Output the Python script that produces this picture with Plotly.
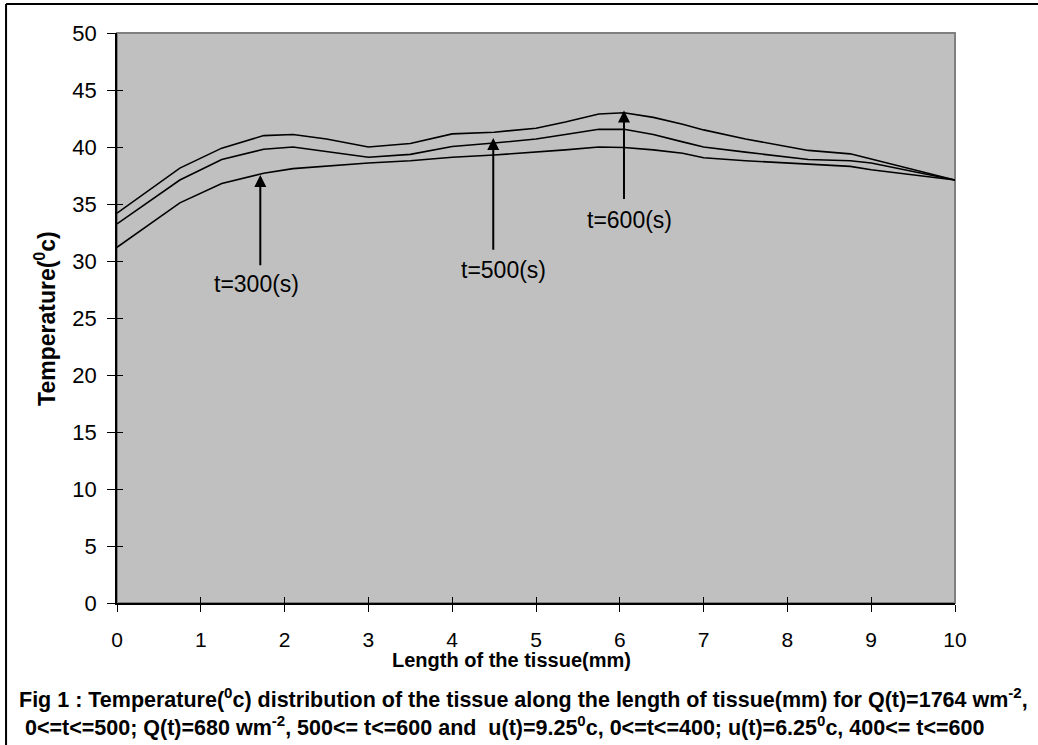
import plotly.graph_objects as go

length_mm = [0, 0.75, 1.25, 1.75, 2.1, 2.5, 3, 3.5, 4, 4.5, 5, 5.35, 5.75, 6.05, 6.4, 6.75, 7, 7.5, 8.25, 8.75, 9, 10]
temp_t300 = [31.2, 35.1, 36.8, 37.7, 38.1, 38.35, 38.6, 38.8, 39.1, 39.3, 39.55, 39.75, 40.0, 39.95, 39.75, 39.45, 39.05, 38.8, 38.5, 38.3, 38.0, 37.1]
temp_t500 = [33.25, 37.1, 38.9, 39.8, 40.0, 39.6, 39.1, 39.35, 40.05, 40.35, 40.7, 41.1, 41.55, 41.55, 41.1, 40.45, 40.0, 39.55, 38.9, 38.8, 38.6, 37.1]
temp_t600 = [34.2, 38.15, 39.9, 41.0, 41.1, 40.7, 40.0, 40.3, 41.15, 41.3, 41.65, 42.2, 42.9, 43.0, 42.6, 42.0, 41.5, 40.7, 39.7, 39.4, 38.95, 37.1]

x_ticks = list(range(0, 11))
y_ticks = list(range(0, 51, 5))

# arrow labels: (text, arrow x, head y, tail y, text x, text y)
arrow_labels = ["t=300(s)", "t=500(s)", "t=600(s)"]
arrow_x = [1.71, 4.49, 6.05]
arrow_head_y = [37.55, 40.8, 43.2]
arrow_tail_y = [29.5, 30.85, 35.3]
label_x = [1.67, 4.61, 6.12]
label_y = [28.0, 29.2, 33.6]

FONT = "Liberation Sans, Arial, sans-serif"

fig = go.Figure()
for ys, name in [(temp_t300, "t=300"), (temp_t500, "t=500"), (temp_t600, "t=600")]:
    fig.add_trace(go.Scatter(x=length_mm, y=ys, mode="lines", name=name,
                             line=dict(color="black", width=1.6), showlegend=False,
                             hoverinfo="skip"))
# invisible trace for overlay axes (inside ticks)
fig.add_trace(go.Scatter(x=[0], y=[0], xaxis="x2", yaxis="y2", mode="markers",
                         marker=dict(opacity=0), showlegend=False, hoverinfo="skip"))

annotations = []
for t, ax_, hy, ty, lx, ly in zip(arrow_labels, arrow_x, arrow_head_y, arrow_tail_y, label_x, label_y):
    annotations.append(dict(x=ax_, y=hy, ax=ax_, ay=ty, xref="x", yref="y", axref="x", ayref="y",
                            text="", showarrow=True, arrowhead=2, arrowsize=1.2, arrowwidth=2,
                            arrowcolor="black", standoff=0, startstandoff=0))
    annotations.append(dict(x=lx, y=ly, xref="x", yref="y", text=t, showarrow=False,
                            font=dict(family=FONT, size=23, color="black"),
                            xanchor="center", yanchor="middle"))

annotations.append(dict(x=0.471, y=-0.1, xref="paper", yref="paper",
                        text="<b>Length of the tissue(mm)</b>", showarrow=False,
                        font=dict(family=FONT, size=20, color="black"),
                        xanchor="center", yanchor="middle"))
annotations.append(dict(x=-0.086, y=0.5, xref="paper", yref="paper",
                        text="<b>Temperature(<sup>0</sup>c)</b>", showarrow=False, textangle=-90,
                        font=dict(family=FONT, size=23, color="black"),
                        xanchor="center", yanchor="middle"))
annotations.append(dict(x=-0.1193, y=-0.1667, xref="paper", yref="paper",
                        text="<b>Fig 1 : Temperature(<sup>0</sup>c) distribution of the tissue along the length of tissue(mm) for Q(t)=1764 wm<sup>-2</sup>,</b>",
                        showarrow=False, font=dict(family=FONT, size=21.5, color="black"),
                        xanchor="left", yanchor="middle"))
annotations.append(dict(x=-0.1193, y=-0.2158, xref="paper", yref="paper",
                        text="<b> 0<=t<=500; Q(t)=680 wm<sup>-2</sup>, 500<= t<=600 and  u(t)=9.25<sup>0</sup>c, 0<=t<=400; u(t)=6.25<sup>0</sup>c, 400<= t<=600</b>",
                        showarrow=False, font=dict(family=FONT, size=21.5, color="black"),
                        xanchor="left", yanchor="middle"))

shapes = [
    # plot area border (gray)
    dict(type="rect", xref="paper", yref="paper", x0=0, x1=1, y0=0, y1=1,
         line=dict(color="#808080", width=2), fillcolor="rgba(0,0,0,0)", layer="below"),
    # outer frame (top and left)
    dict(type="line", xref="paper", yref="paper", x0=-0.1324, x1=1.2, y0=1.0509, y1=1.0509,
         line=dict(color="black", width=2)),
    dict(type="line", xref="paper", yref="paper", x0=-0.1324, x1=-0.1324, y0=-0.4, y1=1.0509,
         line=dict(color="black", width=2)),
]

axis_common = dict(showgrid=False, zeroline=False)
fig.update_layout(
    width=1038, height=745,
    margin=dict(l=117, r=83, t=33, b=142),
    paper_bgcolor="white", plot_bgcolor="#c0c0c0",
    xaxis=dict(range=[0, 10], tickvals=x_ticks, ticks="outside", ticklen=7, tickwidth=1.3,
               tickcolor="black", showline=True, linecolor="black", linewidth=1.6,
               tickfont=dict(family=FONT, size=21, color="black"), ticklabelstandoff=10,
               **axis_common),
    yaxis=dict(range=[0, 50], tickvals=y_ticks, ticks="outside", ticklen=8, tickwidth=1.3,
               tickcolor="black", showline=True, linecolor="black", linewidth=1.6,
               tickfont=dict(family=FONT, size=22, color="black"), ticklabelstandoff=6,
               **axis_common),
    xaxis2=dict(range=[0, 10], tickvals=x_ticks, ticks="inside", ticklen=6, tickwidth=1.3,
                tickcolor="black", showticklabels=False, overlaying="x", anchor="y2",
                showline=False, **axis_common),
    yaxis2=dict(range=[0, 50], tickvals=y_ticks, ticks="inside", ticklen=6, tickwidth=1.3,
                tickcolor="black", showticklabels=False, overlaying="y", anchor="x2",
                side="left", showline=False, **axis_common),
    annotations=annotations,
    shapes=shapes,
)

fig.write_html("out.html", config={"displayModeBar": False},
               post_script="document.body.style.margin='0px';")
